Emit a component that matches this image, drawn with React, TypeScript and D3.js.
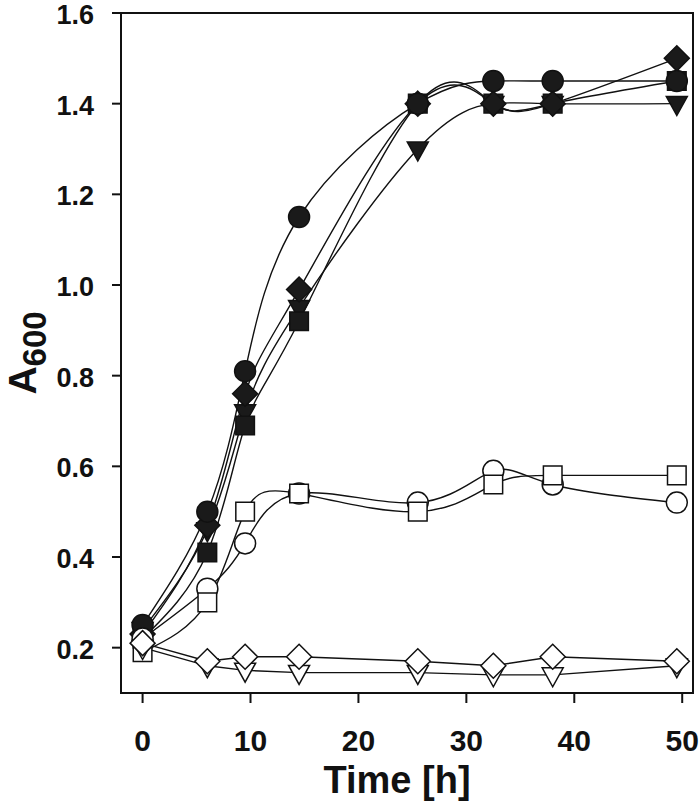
import React from "react";
import * as d3 from "d3";

const times = [0, 6, 9.5, 14.5, 25.5, 32.5, 38, 49.5];
const filledCircle = [0.25, 0.5, 0.81, 1.15, 1.4, 1.45, 1.45, 1.45];
const filledDiamond = [0.23, 0.47, 0.76, 0.99, 1.4, 1.4, 1.4, 1.5];
const filledSquare = [0.22, 0.41, 0.69, 0.92, 1.4, 1.4, 1.4, 1.45];
const filledTriangle = [0.24, 0.46, 0.72, 0.95, 1.3, 1.4, 1.4, 1.4];
const openCircle = [0.22, 0.33, 0.43, 0.54, 0.52, 0.59, 0.56, 0.52];
const openSquare = [0.19, 0.3, 0.5, 0.54, 0.5, 0.56, 0.58, 0.58];
const openTriangle = [0.2, 0.16, 0.15, 0.145, 0.145, 0.14, 0.14, 0.16];
const openDiamond = [0.21, 0.17, 0.18, 0.18, 0.17, 0.16, 0.18, 0.17];

const xTicks = [0, 10, 20, 30, 40, 50];
const yTicks = [0.2, 0.4, 0.6, 0.8, 1.0, 1.2, 1.4, 1.6];

type Shape = "circle" | "square" | "diamond" | "triangle";
interface Series {
  values: number[];
  shape: Shape;
  filled: boolean;
  smooth: boolean;
}

const series: Series[] = [
  { values: filledTriangle, shape: "triangle", filled: true, smooth: true },
  { values: filledSquare, shape: "square", filled: true, smooth: true },
  { values: filledDiamond, shape: "diamond", filled: true, smooth: true },
  { values: filledCircle, shape: "circle", filled: true, smooth: true },
  { values: openCircle, shape: "circle", filled: false, smooth: true },
  { values: openSquare, shape: "square", filled: false, smooth: true },
  { values: openTriangle, shape: "triangle", filled: false, smooth: false },
  { values: openDiamond, shape: "diamond", filled: false, smooth: false },
];

const W = 700;
const H = 808;
const left = 121;
const right = 693;
const top = 13;
const bottom = 693;

const x = d3.scaleLinear().domain([-2, 51]).range([left, right]);
const y = d3.scaleLinear().domain([0.1, 1.6]).range([bottom, top]);

function markerPath(shape: Shape, cx: number, cy: number): string {
  const p = d3.path();
  if (shape === "circle") {
    const r = 10.5;
    p.moveTo(cx + r, cy);
    p.arc(cx, cy, r, 0, Math.PI * 2);
  } else if (shape === "square") {
    const h = 9.3;
    p.rect(cx - h, cy - h, h * 2, h * 2);
  } else if (shape === "diamond") {
    const h = 12.5;
    p.moveTo(cx, cy - h);
    p.lineTo(cx + h, cy);
    p.lineTo(cx, cy + h);
    p.lineTo(cx - h, cy);
  } else {
    const hw = 10.5;
    const hh = 9.5;
    p.moveTo(cx - hw, cy - hh * 0.75);
    p.lineTo(cx + hw, cy - hh * 0.75);
    p.lineTo(cx, cy + hh * 1.25);
  }
  p.closePath();
  return p.toString();
}

export default function App() {
  const fmt = d3.format(".1f");
  const smoothLine = d3
    .line<number>()
    .x((_, i) => x(times[i]))
    .y((d) => y(d))
    .curve(d3.curveNatural);
  const straightLine = d3
    .line<number>()
    .x((_, i) => x(times[i]))
    .y((d) => y(d))
    .curve(d3.curveLinear);
  const font = "'Liberation Sans', Arial, sans-serif";

  return (
    <svg
      width={W}
      height={H}
      viewBox={`0 0 ${W} ${H}`}
      style={{ position: "absolute", left: 0, top: 0, background: "#fff" }}
    >
      <rect x={0} y={0} width={W} height={H} fill="#fff" />
      {/* lines */}
      <g fill="none" stroke="#111" strokeWidth={1.4}>
        {series.map((s, i) => (
          <path key={i} d={(s.smooth ? smoothLine : straightLine)(s.values) || ""} />
        ))}
      </g>
      {/* markers */}
      {series.map((s, i) => (
        <g key={i} fill={s.filled ? "#1a1a1a" : "#fff"} stroke="#111" strokeWidth={1.5}>
          {s.values.map((v, j) => (
            <path key={j} d={markerPath(s.shape, x(times[j]), y(v))} />
          ))}
        </g>
      ))}
      {/* frame */}
      <rect
        x={left}
        y={top}
        width={right - left}
        height={bottom - top}
        fill="none"
        stroke="#111"
        strokeWidth={2}
      />
      {/* ticks */}
      <g stroke="#111" strokeWidth={2}>
        {yTicks.map((t) => (
          <line key={t} x1={left - 9} x2={left} y1={y(t)} y2={y(t)} />
        ))}
        {xTicks.map((t) => (
          <line key={t} x1={x(t)} x2={x(t)} y1={bottom} y2={bottom + 10} />
        ))}
      </g>
      <g fontFamily={font} fontWeight="bold" fill="#111">
        {yTicks.map((t) => (
          <text key={t} x={94} y={y(t)} dy={11} fontSize={27} textAnchor="end">
            {fmt(t)}
          </text>
        ))}
        {xTicks.map((t) => (
          <text key={t} x={x(t)} y={751} fontSize={30} textAnchor="middle">
            {t}
          </text>
        ))}
        <text x={397} y={793} fontSize={38} textAnchor="middle">
          Time [h]
        </text>
        <text transform={`translate(36, ${(top + bottom) / 2}) rotate(-90)`} textAnchor="middle">
          <tspan fontSize={39}>A</tspan>
          <tspan fontSize={33} dy={10}>
            600
          </tspan>
        </text>
      </g>
    </svg>
  );
}
